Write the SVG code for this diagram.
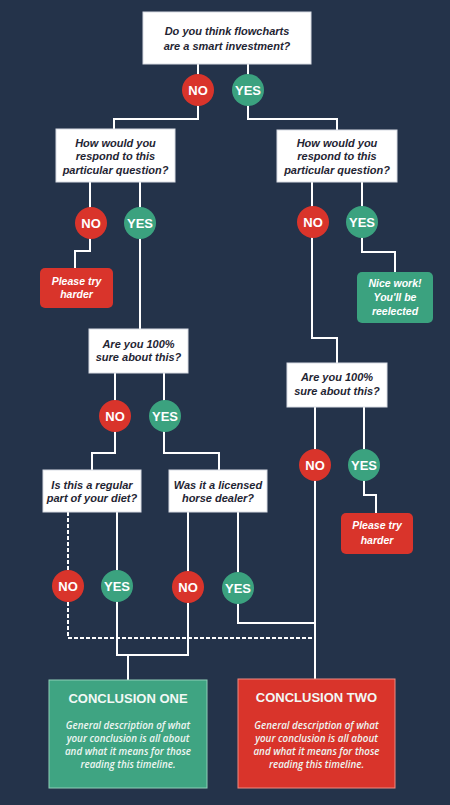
<svg xmlns="http://www.w3.org/2000/svg" width="450" height="805" viewBox="0 0 450 805">
<style>
.q{fill:#ffffff;stroke:#d8dce3;stroke-width:1}
.qt{font-family:"Liberation Sans",Arial,sans-serif;font-size:11px;font-weight:bold;font-style:italic;fill:#1f2533;text-anchor:middle}
.no{fill:#d9342b}
.yes{fill:#3ba27f}
.ct{font-family:"Liberation Sans",Arial,sans-serif;font-size:13px;font-weight:bold;fill:#ffffff;text-anchor:middle}
.rt{font-family:"Liberation Sans",Arial,sans-serif;font-size:10.5px;font-weight:bold;font-style:italic;fill:#ffffff;text-anchor:middle}
.c{fill:none;stroke:#ffffff;stroke-width:2}
.d{fill:none;stroke:#ffffff;stroke-width:2;stroke-dasharray:4 2}
.tt{font-family:"Liberation Sans",Arial,sans-serif;font-size:13px;font-weight:bold;fill:#f2f8f5;text-anchor:middle}
.dt{font-family:"Open Sans","Liberation Sans",sans-serif;font-size:9.8px;font-weight:600;font-style:italic;fill:#eef6f2;text-anchor:middle}
</style>
<rect width="450" height="805" fill="#24334a"/>
<g id="connectors">
<path class="c" d="M198,64 V119 H114 V129"/>
<path class="c" d="M248,64 V119 H337 V130"/>
<path class="c" d="M90,182 V251 H75 V268"/>
<path class="c" d="M140,182 V329"/>
<path class="c" d="M312,182 V338 H337 V363"/>
<path class="c" d="M362,182 V252 H395 V272"/>
<path class="c" d="M115,373 V453 H92 V470"/>
<path class="c" d="M164,373 V453 H219 V470"/>
<path class="c" d="M315,407 V679"/>
<path class="c" d="M364,407 V495 H376 V513"/>
<path class="d" d="M68,512 V638 H315"/>
<path class="c" d="M117,512 V655 H188 V512"/>
<path class="c" d="M128,655 V680"/>
<path class="c" d="M238,512 V623 H315"/>
</g>
<g id="q1"><rect class="q" x="143" y="12" width="168" height="52"/><text class="qt" x="227" y="35">Do you think flowcharts</text><text class="qt" x="227" y="50">are a smart investment?</text></g>
<g id="q1-no"><circle class="no" cx="198" cy="90" r="16"/><text class="ct" x="198" y="95">NO</text></g>
<g id="q1-yes"><circle class="yes" cx="248" cy="90" r="16"/><text class="ct" x="248" y="95">YES</text></g>
<g id="q2l"><rect class="q" x="56" y="129" width="119" height="53"/><text class="qt" x="115.5" y="147">How would you</text><text class="qt" x="115.5" y="160">respond to this</text><text class="qt" x="115.5" y="174">particular question?</text></g>
<g id="q2l-no"><circle class="no" cx="91" cy="223" r="16"/><text class="ct" x="91" y="228">NO</text></g>
<g id="q2l-yes"><circle class="yes" cx="140" cy="223" r="16"/><text class="ct" x="140" y="228">YES</text></g>
<g id="r1"><rect class="no" x="40" y="268" width="73" height="40" rx="5"/><text class="rt" x="76.5" y="285">Please try</text><text class="rt" x="76.5" y="298">harder</text></g>
<g id="q2r"><rect class="q" x="277" y="130" width="120" height="52"/><text class="qt" x="337" y="147">How would you</text><text class="qt" x="337" y="160">respond to this</text><text class="qt" x="337" y="174">particular question?</text></g>
<g id="q2r-no"><circle class="no" cx="313" cy="222" r="16"/><text class="ct" x="313" y="227">NO</text></g>
<g id="q2r-yes"><circle class="yes" cx="362" cy="222" r="16"/><text class="ct" x="362" y="227">YES</text></g>
<g id="r2"><rect class="yes" x="357" y="272" width="76" height="51" rx="5"/><text class="rt" x="395" y="287">Nice work!</text><text class="rt" x="395" y="301">You'll be</text><text class="rt" x="395" y="315">reelected</text></g>
<g id="q3l"><rect class="q" x="89" y="329" width="99" height="44"/><text class="qt" x="138.5" y="348">Are you 100%</text><text class="qt" x="138.5" y="361">sure about this?</text></g>
<g id="q3l-no"><circle class="no" cx="115" cy="416" r="16"/><text class="ct" x="115" y="421">NO</text></g>
<g id="q3l-yes"><circle class="yes" cx="165" cy="416" r="16"/><text class="ct" x="165" y="421">YES</text></g>
<g id="q3r"><rect class="q" x="287" y="363" width="100" height="44"/><text class="qt" x="337" y="381">Are you 100%</text><text class="qt" x="337" y="395">sure about this?</text></g>
<g id="q3r-no"><circle class="no" cx="315" cy="465" r="16"/><text class="ct" x="315" y="470">NO</text></g>
<g id="q3r-yes"><circle class="yes" cx="364" cy="465" r="16"/><text class="ct" x="364" y="470">YES</text></g>
<g id="r3"><rect class="no" x="341" y="513" width="72" height="41" rx="5"/><text class="rt" x="377" y="529">Please try</text><text class="rt" x="377" y="544">harder</text></g>
<g id="q4a"><rect class="q" x="43" y="470" width="98" height="42"/><text class="qt" x="92" y="489">Is this a regular</text><text class="qt" x="92" y="502">part of your diet?</text></g>
<g id="q4a-no"><circle class="no" cx="68" cy="586" r="16"/><text class="ct" x="68" y="591">NO</text></g>
<g id="q4a-yes"><circle class="yes" cx="117" cy="586" r="16"/><text class="ct" x="117" y="591">YES</text></g>
<g id="q4b"><rect class="q" x="169" y="470" width="98" height="42"/><text class="qt" x="218" y="489">Was it a licensed</text><text class="qt" x="218" y="502">horse dealer?</text></g>
<g id="q4b-no"><circle class="no" cx="188" cy="587" r="16"/><text class="ct" x="188" y="592">NO</text></g>
<g id="q4b-yes"><circle class="yes" cx="238" cy="588" r="16"/><text class="ct" x="238" y="593">YES</text></g>
<g id="conclusion-one"><rect x="49" y="680" width="158" height="108" fill="#3fa482" stroke="#8fd0b8" stroke-width="1"/><text class="tt" x="128" y="703">CONCLUSION ONE</text><text class="dt" x="128" y="729">General description of what</text><text class="dt" x="128" y="742">your conclusion is all about</text><text class="dt" x="128" y="755">and what it means for those</text><text class="dt" x="128" y="768">reading this timeline.</text></g>
<g id="conclusion-two"><rect x="238" y="679" width="157" height="109" fill="#d9342b" stroke="#f08a80" stroke-width="1"/><text class="tt" x="316.5" y="702">CONCLUSION TWO</text><text class="dt" x="316.5" y="729">General description of what</text><text class="dt" x="316.5" y="742">your conclusion is all about</text><text class="dt" x="316.5" y="755">and what it means for those</text><text class="dt" x="316.5" y="768">reading this timeline.</text></g>
</svg>
